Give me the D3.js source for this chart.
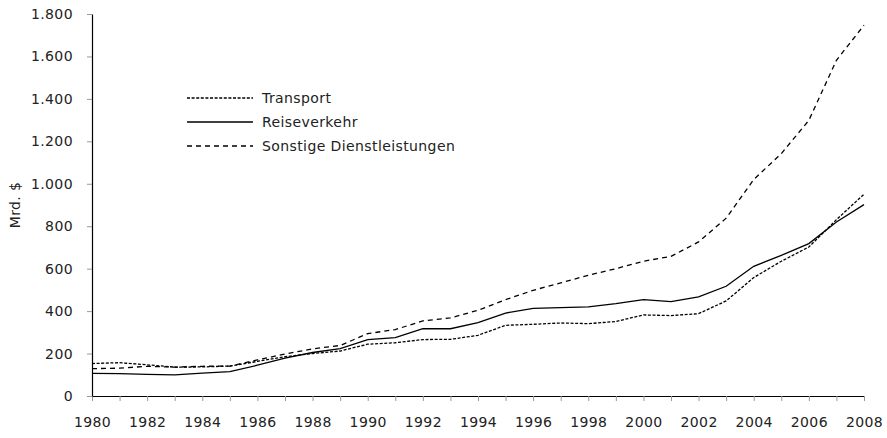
<!DOCTYPE html>
<html>
<head>
<meta charset="utf-8">
<script src="https://cdn.jsdelivr.net/npm/d3@7"></script>
<style>
  body { margin: 0; background: #fff; }
  svg text { font-family: "DejaVu Sans", sans-serif; fill: #222; letter-spacing: 0.4px; }
</style>
</head>
<body>
<svg id="chart" width="887" height="438"></svg>
<script>
const years = d3.range(1980, 2009);

// Mrd. $
const transport = [153, 157, 147, 136, 137, 141, 163, 185, 200, 212, 244, 251, 266, 267, 286,
  333, 338, 344, 341, 351, 382, 379, 388, 448, 558, 635, 702, 831, 951];
const reiseverkehr = [107, 105, 102, 100, 108, 115, 145, 178, 205, 223, 266, 275, 317, 317, 346,
  391, 413, 416, 420, 435, 454, 445, 467, 517, 611, 663, 718, 820, 902];
const sonstige = [129, 131, 140, 136, 140, 141, 170, 198, 222, 238, 294, 313, 354, 368, 404,
  454, 498, 533, 569, 600, 635, 658, 726, 838, 1020, 1142, 1299, 1582, 1747];

const seriesNames = ["Transport", "Reiseverkehr", "Sonstige Dienstleistungen"];
const yTicks = [0, 200, 400, 600, 800, 1000, 1200, 1400, 1600, 1800];

const chartParams = {
  margin: { top: 14, right: 23, bottom: 42, left: 92 },
  fontSize: 14,
  dash: ["3,1.6", null, "5,4"]
};

const svg = d3.select("#chart");
const width = 887 - chartParams.margin.left - chartParams.margin.right;
const height = 438 - chartParams.margin.top - chartParams.margin.bottom;
const g = svg.append("g")
  .attr("transform", `translate(${chartParams.margin.left},${chartParams.margin.top})`);

const de = d3.formatLocale({ decimal: ",", thousands: ".", grouping: [3], currency: ["", " $"] });

const xScale = d3.scaleLinear().domain([1980, 2008]).range([0, width]);
const yScale = d3.scaleLinear().domain([0, 1800]).range([height, 0]);

// axes
const xAxis = d3.axisBottom(xScale)
  .tickValues(years)
  .tickFormat(d => d % 2 === 0 ? String(d) : "")
  .tickSize(5).tickSizeOuter(0).tickPadding(16);
const gx = g.append("g").attr("transform", `translate(0,${height})`).call(xAxis);

const yAxis = d3.axisLeft(yScale)
  .tickValues(yTicks)
  .tickFormat(de.format(",d"))
  .tickSize(5).tickSizeOuter(0).tickPadding(14);
const gy = g.append("g").call(yAxis);

[gx, gy].forEach(a => {
  a.selectAll("text").attr("font-size", chartParams.fontSize)
    .style("font-family", "'DejaVu Sans', sans-serif").attr("fill", "#222");
  a.selectAll("line").attr("stroke", "#999");
  a.select(".domain").attr("stroke", "#000").attr("stroke-width", 1.2);
});

svg.append("text")
  .attr("transform", `translate(16,${chartParams.margin.top + height / 2}) rotate(-90)`)
  .attr("text-anchor", "middle")
  .attr("dominant-baseline", "middle")
  .attr("font-size", chartParams.fontSize)
  .text("Mrd. $");

// lines
const data = [transport, reiseverkehr, sonstige];
const line = d3.line().x((d, i) => xScale(years[i])).y(d => yScale(d));

data.forEach((s, k) => {
  g.append("path")
    .datum(s)
    .attr("fill", "none")
    .attr("stroke", "#000")
    .attr("stroke-width", 1.3)
    .attr("stroke-dasharray", chartParams.dash[k])
    .attr("d", line);
});

// legend
const legend = svg.append("g").attr("transform", "translate(187,98)");
seriesNames.forEach((name, k) => {
  const row = legend.append("g").attr("transform", `translate(0,${k * 24})`);
  row.append("line")
    .attr("x1", 0).attr("x2", 66).attr("y1", 0).attr("y2", 0)
    .attr("stroke", "#000").attr("stroke-width", 1.3)
    .attr("stroke-dasharray", chartParams.dash[k]);
  row.append("text")
    .attr("x", 75).attr("y", 1)
    .attr("dominant-baseline", "middle")
    .attr("font-size", chartParams.fontSize)
    .text(name);
});
</script>
</body>
</html>
